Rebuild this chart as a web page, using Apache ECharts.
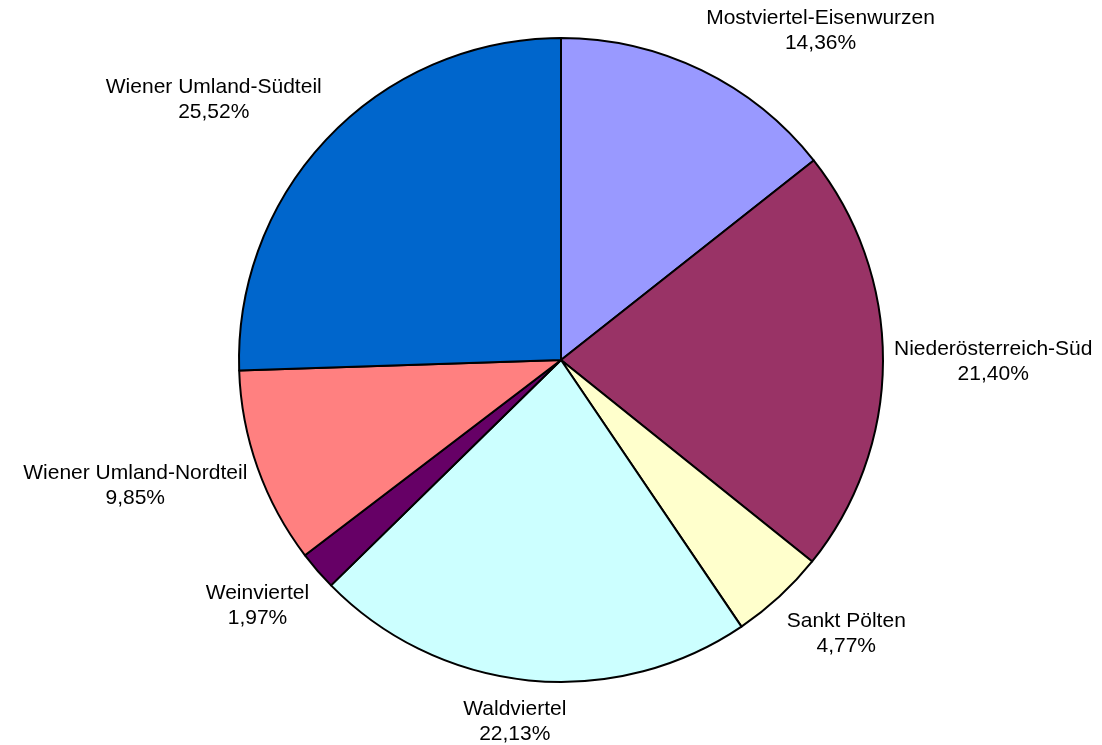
<!DOCTYPE html>
<html>
<head>
<meta charset="utf-8">
<script src="https://cdn.jsdelivr.net/npm/echarts@6/dist/echarts.min.js"></script>
<style>
  html, body { margin: 0; padding: 0; background: #ffffff; }
  #chart { width: 1102px; height: 745px; }
</style>
</head>
<body>
<div id="chart"></div>
<script>
// Regions of Lower Austria and their share in percent
const regions = [
  'Mostviertel-Eisenwurzen',
  'Niederösterreich-Süd',
  'Sankt Pölten',
  'Waldviertel',
  'Weinviertel',
  'Wiener Umland-Nordteil',
  'Wiener Umland-Südteil'
];
const shares = [14.36, 21.40, 4.77, 22.13, 1.97, 9.85, 25.52];
const colors = ['#9999FF', '#993366', '#FFFFCC', '#CCFFFF', '#660066', '#FF8080', '#0066CC'];

const CX = 561, CY = 360, R = 322;
const total = shares.reduce((a, b) => a + b, 0);

// Mid angle of each slice, measured clockwise from 12 o'clock
const midAngles = [];
let acc = 0;
shares.forEach(v => {
  midAngles.push((acc + v / 2) / total * 2 * Math.PI);
  acc += v;
});

const clamp = (v) => Math.max(-1, Math.min(1, v));

const chart = echarts.init(document.getElementById('chart'));
chart.setOption({
  animation: false,
  backgroundColor: '#ffffff',
  series: [{
    type: 'pie',
    center: [CX, CY],
    radius: [0, R],
    startAngle: 90,
    clockwise: true,
    avoidLabelOverlap: false,
    data: regions.map((name, i) => ({
      name: name,
      value: shares[i],
      itemStyle: { color: colors[i] }
    })),
    itemStyle: { borderColor: '#000000', borderWidth: 2 },
    emphasis: { disabled: true },
    label: {
      show: true,
      position: 'outside',
      formatter: (p) => p.name + '\n' + p.value.toFixed(2).replace('.', ',') + '%',
      fontFamily: 'Liberation Sans, Arial, sans-serif',
      fontSize: 21,
      lineHeight: 25,
      color: '#000000',
      align: 'center'
    },
    labelLine: { show: false },
    // Label boxes sit just outside the rim, pushed away from the pie along the slice's mid angle
    labelLayout: function (params) {
      const a = midAngles[params.dataIndex];
      const dx = Math.sin(a), dy = -Math.cos(a);
      const w = params.labelRect.width, h = params.labelRect.height;
      const x = CX + (R + 11) * dx + w / 2 * clamp(dx * 2.5);
      const y = CY + (R + 16) * dy + h / 2 * clamp(dy * 1.5);
      return { x: x, y: y, align: 'center', verticalAlign: 'middle' };
    }
  }]
});
</script>
</body>
</html>
